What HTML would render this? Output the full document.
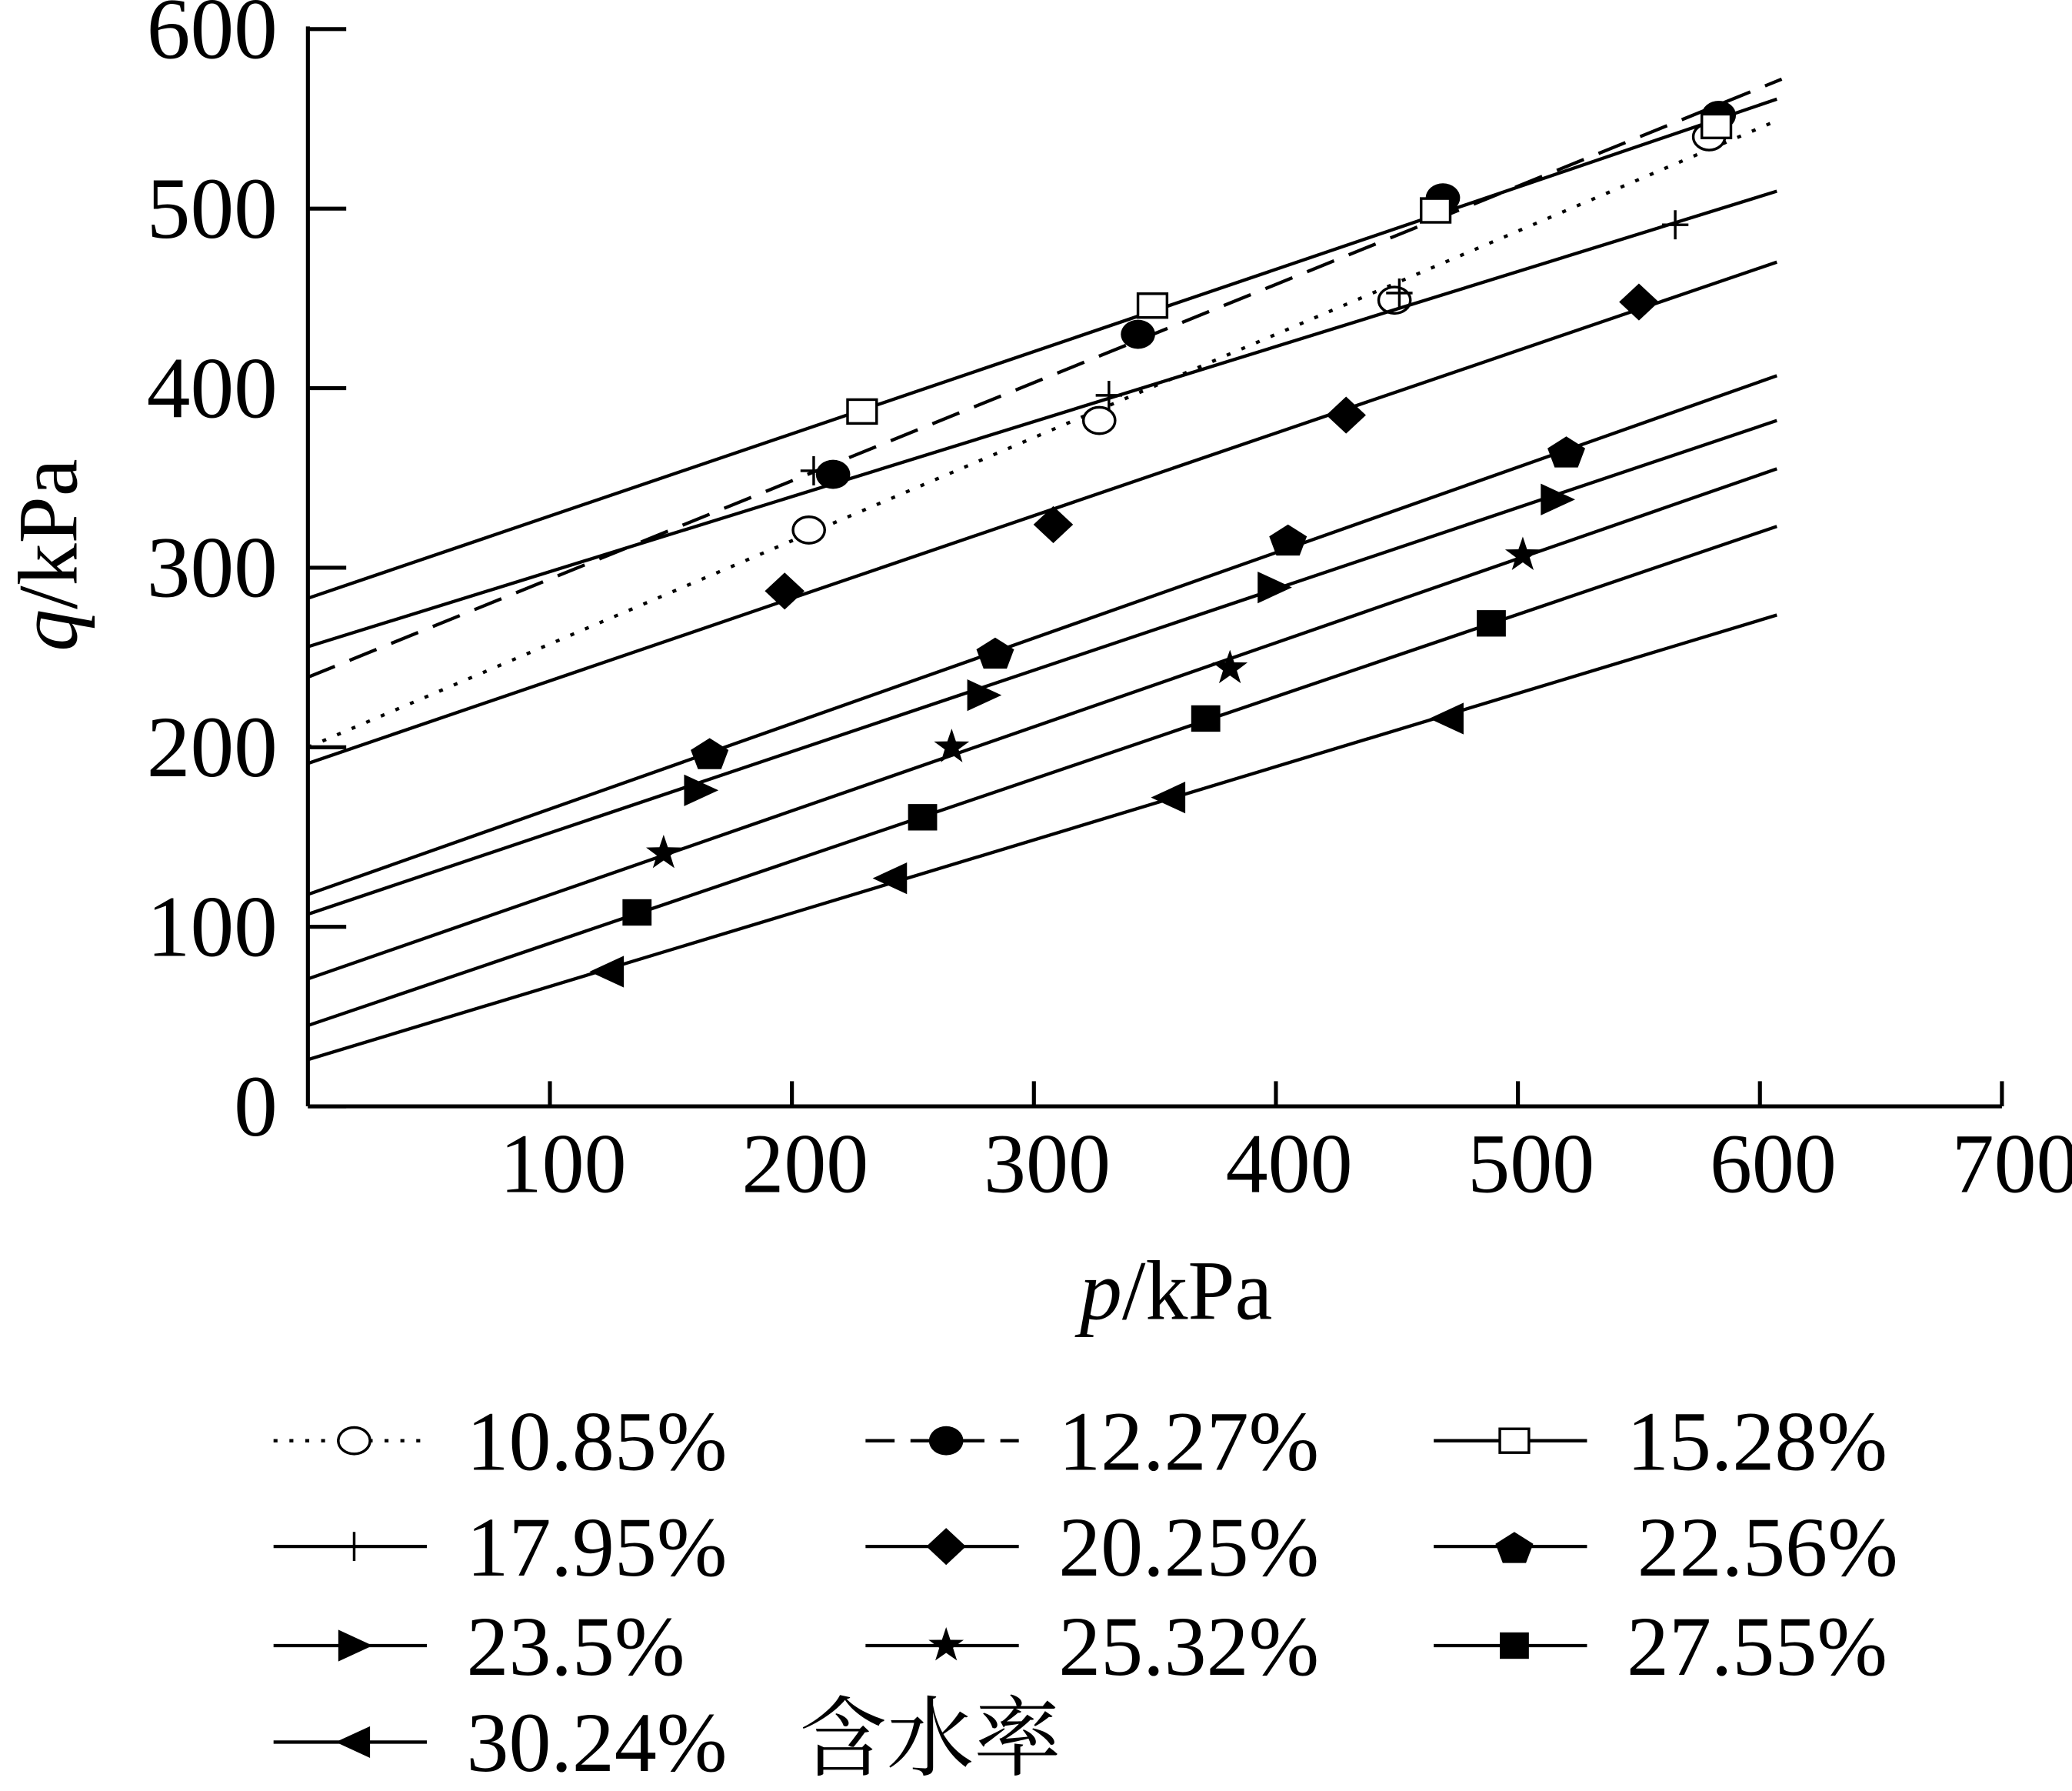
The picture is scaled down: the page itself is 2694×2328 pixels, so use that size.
<!DOCTYPE html>
<html><head><meta charset="utf-8"><style>
html,body{margin:0;padding:0;background:#fff}
svg{display:block}
text{font-family:"Liberation Serif","Noto Serif CJK SC",serif;fill:#000}
</style></head><body>
<svg id="chart" width="2694" height="2328" viewBox="0 0 1568 1355" xmlns="http://www.w3.org/2000/svg">
<g id="axes"></g>
<g id="series"></g>
<g id="legend"></g>
</svg>
<script>
const labels=["10.85%","12.27%","15.28%","17.95%","20.25%","22.56%","23.5%","25.32%","27.55%","30.24%"];
const markers=["ocircle","circle","osquare","plus","diamond","pentagon","tright","star","square","tleft"];
const dashes=["3,9","22,12","","","","","","","",""];
const pVals=[
[207,327,449,579],[217,343,469,583],[229,349,466,582],[209,331,451,565],[197,308,429,550],
[166,284,405,520],[162,279,399,516],[147,266,381,502],[136,254,371,489],[124,241,356,471]];
const qVals=[
[321,382,449,540],[352,430,506,552],[387,446,499,546],[354,396,453,491],[287,324,385,448],
[197,253,316,365],[176,229,289,338],[141,200,244,307],[108,161,216,269],[75,127,172,216]];
const intercepts=[200,239,283,256,191,118,107,71,45,26];
const slopes=[0.575,0.547,0.458,0.418,0.46,0.476,0.453,0.468,0.458,0.408];
const lineEnd=[607,609,607,607,607,607,607,607,607,607];
const xTicks=[100,200,300,400,500,600,700];
const yTicks=[0,100,200,300,400,500,600];

const NS="http://www.w3.org/2000/svg";
const X=p=>233+p*1.8314;
const Y=q=>837-q*1.3583;
function mk(tag,attrs,parent){const e=document.createElementNS(NS,tag);for(const k in attrs)e.setAttribute(k,attrs[k]);parent.appendChild(e);return e;}
const axes=document.getElementById('axes'),series=document.getElementById('series'),legend=document.getElementById('legend');

let e=mk('line',{x1:233,y1:837,x2:1515,y2:837,stroke:'#000','stroke-width':3},axes);


e=mk('line',{x1:233,y1:837,x2:233,y2:20,stroke:'#000','stroke-width':3},axes);


xTicks.forEach(t=>{
  let l=mk('line',{x1:X(t),y1:837,x2:X(t),y2:818,stroke:'#000','stroke-width':3},axes);
  
  
  let tx=mk('text',{x:X(t)+10,y:902,'font-size':64,'text-anchor':'middle'},axes);
  tx.textContent=t;
  
  
});
yTicks.forEach(t=>{
  let l=mk('line',{x1:233,y1:Y(t),x2:262,y2:Y(t),stroke:'#000','stroke-width':3},axes);
  
  
  let tx=mk('text',{x:210,y:Y(t)+22,'font-size':66,'text-anchor':'end'},axes);
  tx.textContent=t;
  
  
});
let xt=mk('text',{x:890,y:998,'font-size':64,'text-anchor':'middle'},axes);
xt.innerHTML='<tspan font-style="italic">p</tspan>/kPa';


let yt=mk('text',{x:0,y:0,'font-size':64,'text-anchor':'middle',transform:'translate(58,420) rotate(-90)'},axes);
yt.innerHTML='<tspan font-style="italic">q</tspan>/kPa';



function marker(type,cx,cy,parent){
  let m;
  switch(type){
    case 'ocircle':m=mk('ellipse',{cx,cy,rx:12,ry:10,fill:'#fff',stroke:'#000','stroke-width':2},parent);break;
    case 'circle':m=mk('ellipse',{cx,cy,rx:13,ry:11,fill:'#000'},parent);break;
    case 'osquare':m=mk('rect',{x:cx-11,y:cy-9,width:22,height:18,fill:'#fff',stroke:'#000','stroke-width':2},parent);break;
    case 'square':m=mk('rect',{x:cx-11,y:cy-10,width:22,height:20,fill:'#000'},parent);break;
    case 'plus':m=mk('path',{d:`M${cx-10},${cy}H${cx+10}M${cx},${cy-11}V${cy+11}`,stroke:'#000','stroke-width':2,fill:'none'},parent);break;
    case 'diamond':m=mk('path',{d:`M${cx},${cy-14}L${cx+15},${cy}L${cx},${cy+14}L${cx-15},${cy}Z`,fill:'#000'},parent);break;
    case 'pentagon':{let pts=[];for(let i=0;i<5;i++){const a=-Math.PI/2+i*2*Math.PI/5;pts.push((cx+15*Math.cos(a)).toFixed(1)+','+(cy+2+13*Math.sin(a)).toFixed(1));}m=mk('polygon',{points:pts.join(' '),fill:'#000'},parent);break;}
    case 'tright':m=mk('path',{d:`M${cx-12},${cy-12}L${cx+14},${cy}L${cx-12},${cy+12}Z`,fill:'#000'},parent);break;
    case 'tleft':m=mk('path',{d:`M${cx+12},${cy-12}L${cx-14},${cy}L${cx+12},${cy+12}Z`,fill:'#000'},parent);break;
    case 'star':{let pts=[];for(let i=0;i<10;i++){const a=-Math.PI/2+i*Math.PI/5;const r=i%2?5.5:14;pts.push((cx+r*Math.cos(a)).toFixed(1)+','+(cy+r*Math.sin(a)).toFixed(1));}m=mk('polygon',{points:pts.join(' '),fill:'#000'},parent);break;}
  }
  return m;
}

labels.forEach((lab,i)=>{
  const g=mk('g',{},series);
  
  
  const ln=mk('line',{x1:X(0),y1:Y(intercepts[i]),x2:X(lineEnd[i]),y2:Y(intercepts[i]+slopes[i]*lineEnd[i]),stroke:'#000','stroke-width':2.5},g);
  if(dashes[i])ln.setAttribute('stroke-dasharray',dashes[i]);
  
  
  pVals[i].forEach((p,j)=>{
    const m=marker(markers[i],X(p),Y(qVals[i][j]),g);
    
    
  });
  const col=i%3,row=Math.floor(i/3);
  const lx=[207,655,1085][col],ly=[1090,1170,1245,1318][row];
  const lg=mk('g',{},legend);
  
  
  const sl=mk('line',{x1:lx,y1:ly,x2:lx+116,y2:ly,stroke:'#000','stroke-width':2.5},lg);
  if(dashes[i])sl.setAttribute('stroke-dasharray',dashes[i]);
  marker(markers[i],lx+61,ly,lg);
  const t=mk('text',{x:lx+146+(i==5?8:0),y:ly+22,'font-size':64},lg);
  t.textContent=lab;
});
const wt=mk('text',{x:605,y:1338,'font-size':66,'font-family':'"Noto Serif CJK SC","Noto Sans CJK SC",serif'},legend);
wt.textContent='含水率';


</script>
</body></html>
